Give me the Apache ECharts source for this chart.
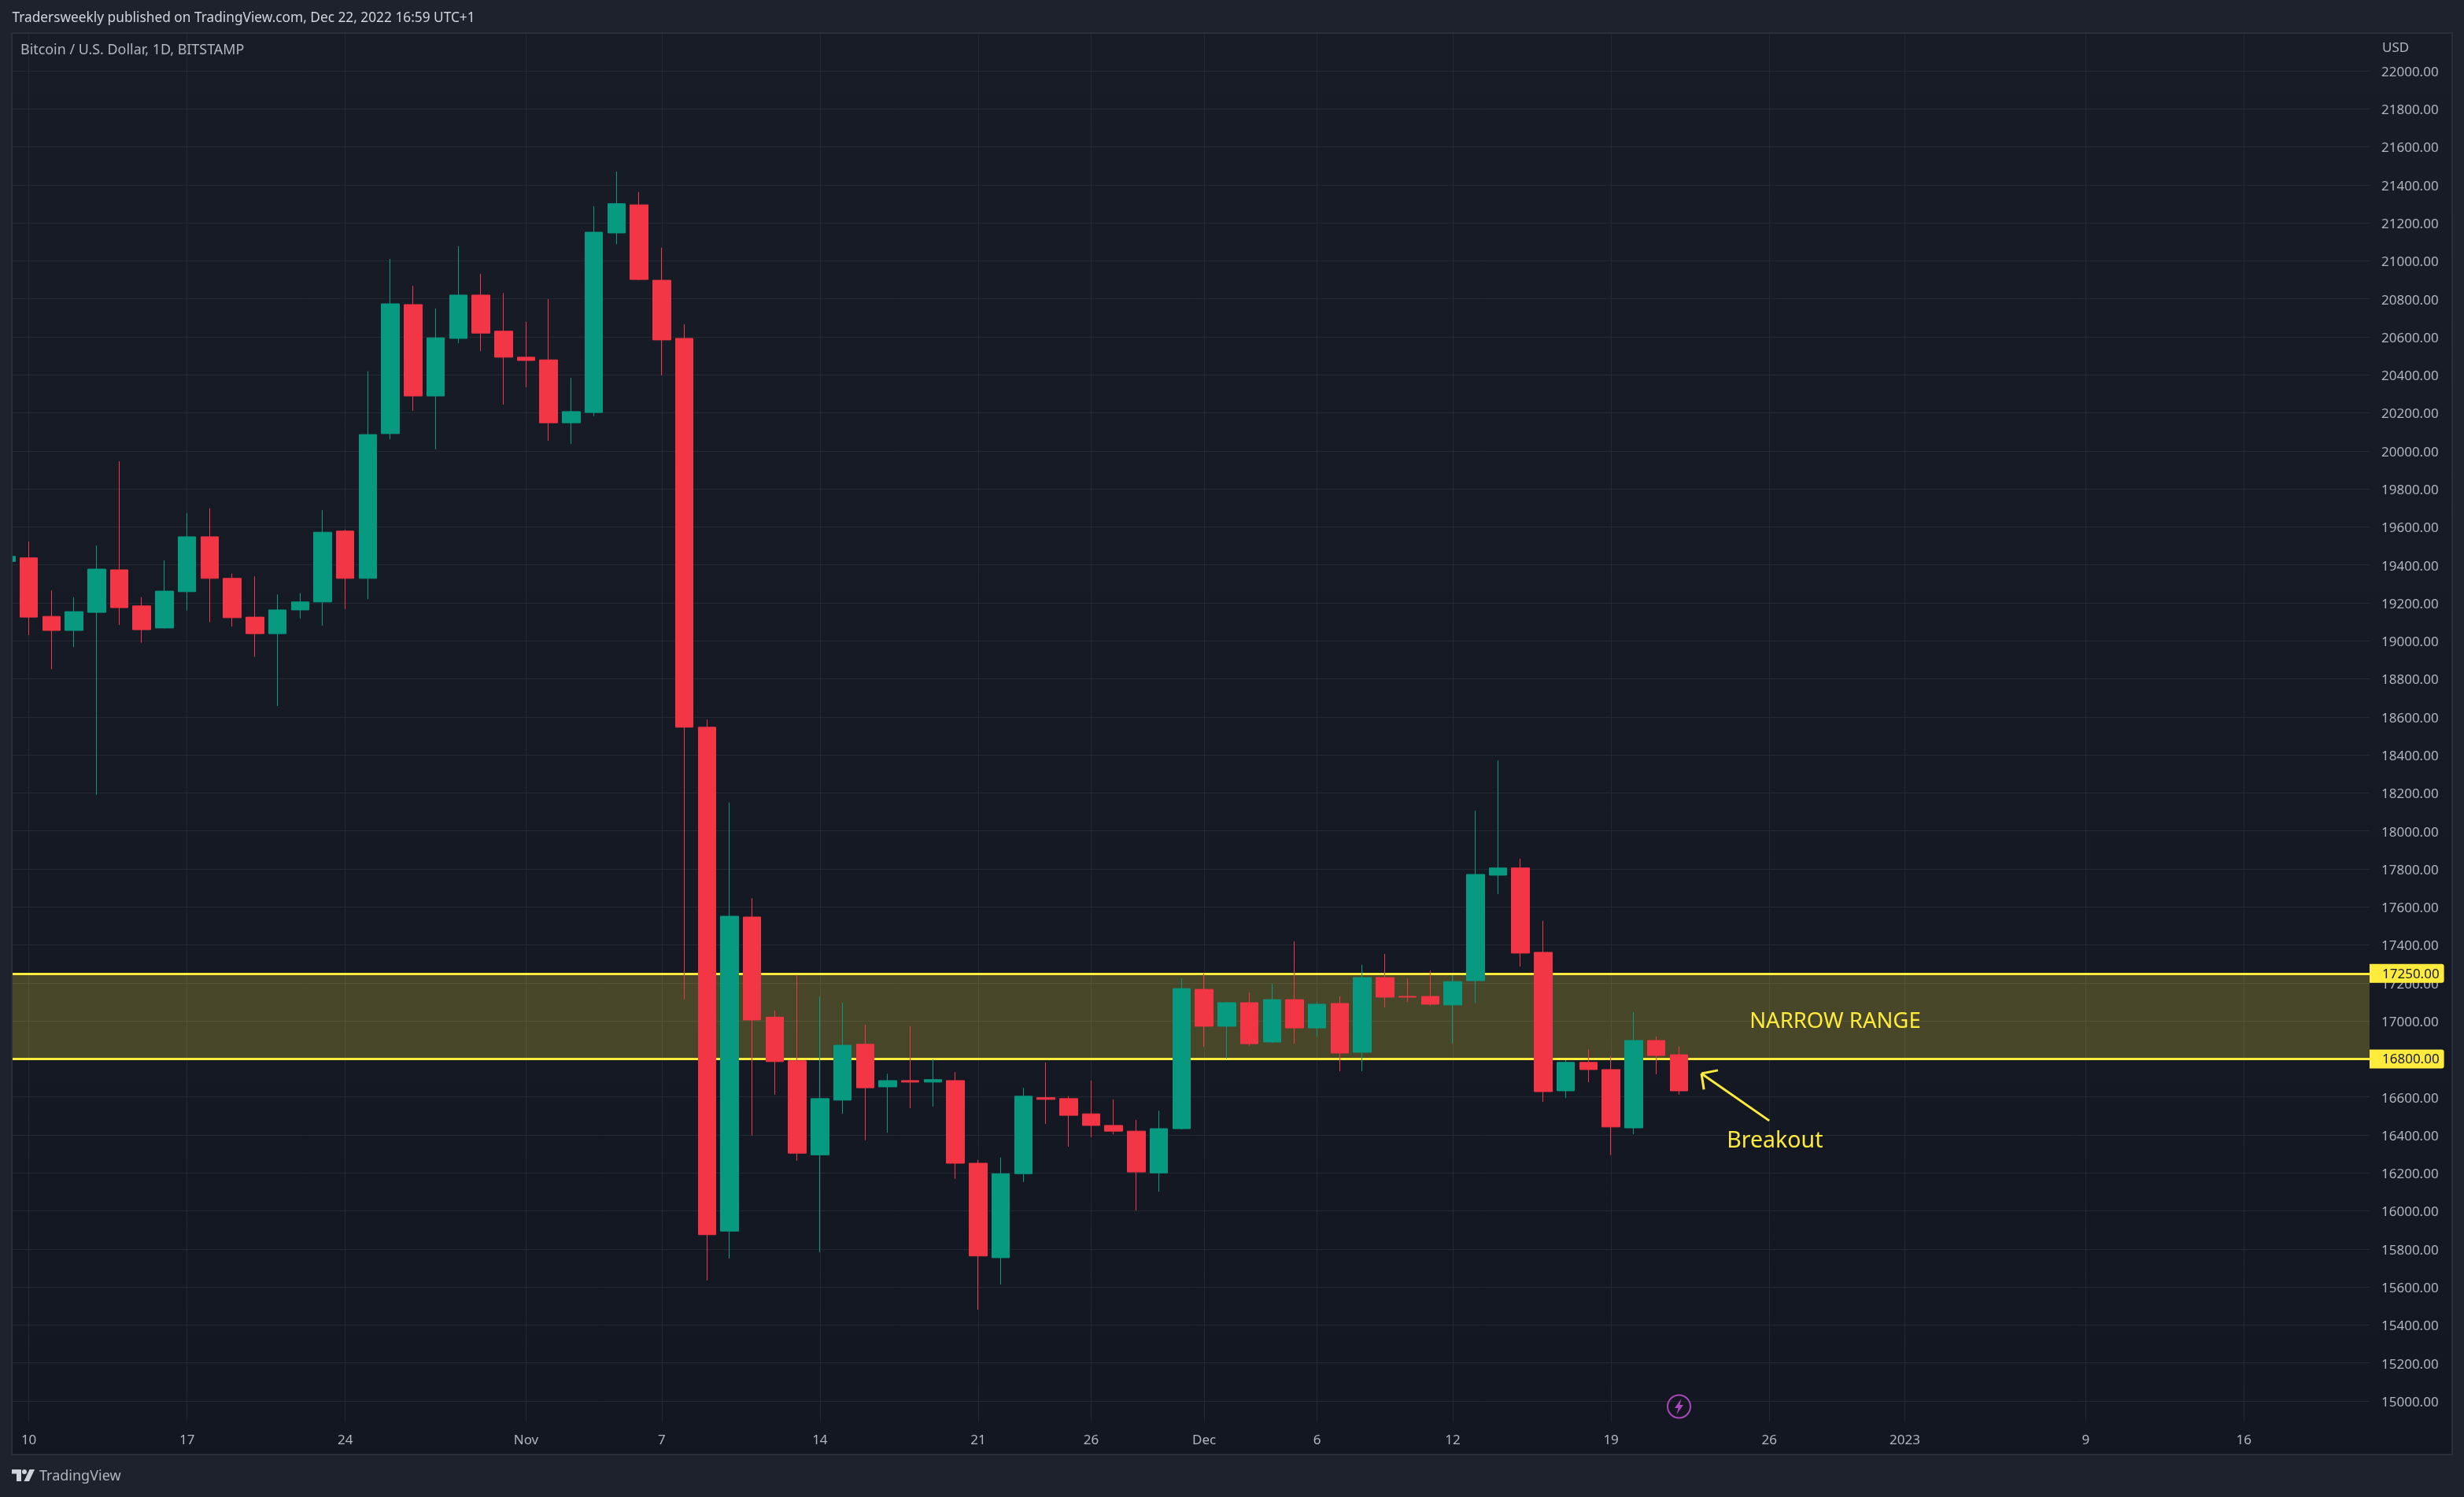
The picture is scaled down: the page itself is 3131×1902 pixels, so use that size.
<!DOCTYPE html>
<html><head><meta charset="utf-8">
<style>html,body{margin:0;padding:0;background:#1e222d;overflow:hidden}#c{width:3131px;height:1902px}</style>
<script src="https://cdn.jsdelivr.net/npm/echarts@6/dist/echarts.min.js"></script>
</head><body><div id="c"></div>
<script>
const dates = ['2022-10-09','2022-10-10','2022-10-11','2022-10-12','2022-10-13','2022-10-14','2022-10-15','2022-10-16','2022-10-17','2022-10-18','2022-10-19','2022-10-20','2022-10-21','2022-10-22','2022-10-23','2022-10-24','2022-10-25','2022-10-26','2022-10-27','2022-10-28','2022-10-29','2022-10-30','2022-10-31','2022-11-01','2022-11-02','2022-11-03','2022-11-04','2022-11-05','2022-11-06','2022-11-07','2022-11-08','2022-11-09','2022-11-10','2022-11-11','2022-11-12','2022-11-13','2022-11-14','2022-11-15','2022-11-16','2022-11-17','2022-11-18','2022-11-19','2022-11-20','2022-11-21','2022-11-22','2022-11-23','2022-11-24','2022-11-25','2022-11-26','2022-11-27','2022-11-28','2022-11-29','2022-11-30','2022-12-01','2022-12-02','2022-12-03','2022-12-04','2022-12-05','2022-12-06','2022-12-07','2022-12-08','2022-12-09','2022-12-10','2022-12-11','2022-12-12','2022-12-13','2022-12-14','2022-12-15','2022-12-16','2022-12-17','2022-12-18','2022-12-19','2022-12-20','2022-12-21','2022-12-22'];
const opens = [19418,19437,19129,19055,19150,19374,19184,19068,19259,19548,19329,19125,19038,19163,19205,19578,19329,20091,20770,20289,20592,20820,20630,20493,20479,20148,20202,21147,21295,20898,20592,18546,15894,17547,17020,16790,16295,16583,16877,16653,16686,16678,16686,16251,15754,16196,16596,16591,16511,16450,16420,16200,16433,17166,16972,17096,16889,17112,16963,17092,16835,17228,17129,17129,17084,17212,17767,17805,17361,16632,16782,16744,16437,16897,16822];
const closes = [19445,19125,19055,19154,19378,19175,19059,19262,19548,19329,19122,19038,19163,19205,19572,19329,20086,20774,20289,20595,20820,20620,20493,20476,20148,20207,21151,21301,20902,20584,18546,15875,17551,17005,16786,16304,16591,16872,16648,16686,16678,16691,16251,15763,16196,16604,16587,16503,16450,16420,16205,16433,17170,16972,17096,16880,17112,16963,17088,16831,17228,17125,17125,17088,17207,17771,17805,17357,16628,16782,16744,16442,16897,16818,16632];
const lows = [19400,19030,18851,18968,18190,19084,18990,19066,19160,19099,19076,18916,18657,19118,19080,19167,19220,20061,20211,20008,20567,20525,20244,20335,20053,20036,20183,21088,20898,20398,17113,15634,15750,16397,16612,16264,15782,16511,16372,16412,16541,16549,16169,15480,15613,16152,16458,16338,16388,16403,16002,16101,16429,16864,16802,16868,16885,16880,16914,16735,16735,17071,17100,17079,16881,17093,17668,17286,16574,16594,16677,16294,16404,16719,16612];
const highs = [19470,19523,19266,19230,19502,19945,19230,19424,19673,19698,19354,19340,19245,19251,19688,19586,20419,21010,20869,20750,21077,20932,20831,20679,20799,20384,21288,21470,21362,21069,20666,18586,18149,17646,17054,17242,17128,17096,16980,16722,16972,16798,16731,16268,16281,16648,16781,16604,16686,16587,16479,16528,17225,17250,17101,17150,17195,17419,17100,17129,17295,17353,17224,17266,17241,18107,18371,17854,17527,16793,16851,16814,17046,16918,16865];
const xTickDates = ['2022-10-10','2022-10-17','2022-10-24','2022-11-01','2022-11-07','2022-11-14','2022-11-21','2022-11-26','2022-12-01','2022-12-06','2022-12-12','2022-12-19','2022-12-26','2023-01-01','2023-01-09','2023-01-16'];
const xTickLabels = ['10','17','24','Nov','7','14','21','26','Dec','6','12','19','26','2023','9','16'];
const yTicks = [15000,15200,15400,15600,15800,16000,16200,16400,16600,16800,17000,17200,17400,17600,17800,18000,18200,18400,18600,18800,19000,19200,19400,19600,19800,20000,20200,20400,20600,20800,21000,21200,21400,21600,21800,22000];
const rangeLevels = [16800,17250];
const arrowShaft = [['2022-12-23T00:00:00',16723],['2022-12-26T00:00:00',16475]];
const arrowLeg1 = [['2022-12-23T00:00:00',16723],['2022-12-23T17:31:00',16740]];
const arrowLeg2 = [['2022-12-23T00:00:00',16723],['2022-12-23T02:38:00',16639]];
const noteRange = ['NARROW RANGE','2022-12-28T22:00:00',16997,27.5];
const noteBreak = ['Breakout','2022-12-26T06:00:00',16367,28.5];
const xMin = '2022-10-09T06:21:36', xMax = '2023-01-21T13:26:00';
const yMin = 14888, yMax = 22199;

const FONT = '"Noto Sans", sans-serif';
const GREEN = '#089981', RED = '#F23645', YEL = '#FFEB3B', TXT = '#B2B5BE', GRID = '#242833', PAGE = '#1E222D';
const ts = s => Date.parse((s.length === 10 ? s + 'T00:00:00' : s) + 'Z');
const seg = (pts) => [{coord:[ts(pts[0][0]),pts[0][1]]},{coord:[ts(pts[1][0]),pts[1][1]]}];
const xTickTs = xTickDates.map(ts);

const chart = echarts.init(document.getElementById('c'));
chart.setOption({
  animation:false, backgroundColor:PAGE,
  grid:{left:15.5, top:42, width:2995.5, height:1765, containLabel:false},
  xAxis:{type:'value', min:ts(xMin), max:ts(xMax), scale:true,
    axisLine:{show:false}, axisTick:{show:false, customValues:xTickTs},
    splitLine:{show:true, lineStyle:{color:GRID,width:1}},
    axisLabel:{customValues:xTickTs, margin:15, color:TXT, fontFamily:FONT, fontSize:17,
      formatter:v=>xTickLabels[xTickTs.indexOf(v)]}},
  yAxis:[{type:'value', position:'right', min:yMin, max:yMax, scale:true,
    axisLine:{show:false}, axisTick:{show:false, customValues:yTicks},
    splitLine:{show:true, lineStyle:{color:GRID,width:1}},
    axisLabel:{customValues:yTicks, margin:15, formatter:v=>'{a|'+v.toFixed(2)+'}',
      rich:{a:{color:TXT, fontFamily:FONT, fontSize:17, lineHeight:17, padding:[4,0,0,0]}}}},
   {type:'value', position:'right', min:yMin, max:yMax, z:6,
    axisLine:{show:false}, axisTick:{show:false, customValues:rangeLevels}, splitLine:{show:false},
    axisLabel:{customValues:rangeLevels, margin:0,
      backgroundColor:YEL, padding:[3,6,4,16], borderRadius:[0,3,3,0], formatter:v=>'{a|'+v.toFixed(2)+'}',
      rich:{a:{color:'#131722', fontFamily:FONT, fontSize:17, lineHeight:17, padding:[3,0,0,0]}}}}],
  series:[{type:'candlestick', barWidth:23, z:2, clip:true,
    itemStyle:{color:GREEN,color0:RED,borderColor:GREEN,borderColor0:RED,borderWidth:1},
    data:dates.map((d,i)=>[ts(d),opens[i],closes[i],lows[i],highs[i]]),
    markArea:{silent:true, z:1, itemStyle:{color:'rgba(255,235,59,0.22)',borderWidth:0},
      data:[[{yAxis:rangeLevels[1]},{yAxis:rangeLevels[0]}]]},
    markLine:{silent:true, z:1, symbol:'none', label:{show:false}, animation:false,
      lineStyle:{color:YEL,width:3,type:'solid'},
      data:[{yAxis:rangeLevels[0]},{yAxis:rangeLevels[1]},seg(arrowShaft),seg(arrowLeg1),seg(arrowLeg2)]},
    markPoint:{silent:true, z:6, animation:false, symbol:'circle', symbolSize:1, itemStyle:{color:'rgba(0,0,0,0)'},
      data:[noteRange,noteBreak].map(n=>({coord:[ts(n[1]),n[2]],value:n[0],
        label:{show:true,position:'inside',formatter:n[0],color:YEL,fontFamily:FONT,fontSize:n[3]}}))}
  }],
  graphic:[
    {type:'rect',z:-10,silent:true,shape:{x:15,y:42,width:3101,height:1806},
      style:{fill:{type:'linear',x:0,y:0,x2:0,y2:1,colorStops:[{offset:0,color:'#181C27'},{offset:1,color:'#131722'}]}}},
    {type:'rect',z:10,silent:true,shape:{x:0,y:30,width:14,height:1830},style:{fill:PAGE}},
    {type:'rect',z:11,silent:true,shape:{x:15,y:42,width:3101,height:1806},style:{fill:'none',stroke:'#2A2E39',lineWidth:2}},
    {type:'text',z:20,x:15.5,y:15,style:{text:'Tradersweekly published on TradingView.com, Dec 22, 2022 16:59 UTC+1',fill:'#D1D4DC',font:'17.3px '+FONT}},
    {type:'text',z:20,x:26,y:55,style:{text:'Bitcoin / U.S. Dollar, 1D, BITSTAMP',fill:TXT,font:'17.9px '+FONT}},
    {type:'text',z:20,x:3027,y:53,style:{text:'USD',fill:TXT,font:'17px '+FONT}},
    {type:'text',z:20,x:50,y:1867,style:{text:'TradingView',fill:TXT,font:'18px '+FONT}},
    {type:'polygon',z:20,shape:{points:[[15,1867],[27,1867],[27,1882],[21,1882],[21,1872.5],[15,1872.5]]},style:{fill:'#D1D4DC'}},
    {type:'circle',z:20,shape:{cx:31,cy:1870,r:3},style:{fill:'#D1D4DC'}},
    {type:'polygon',z:20,shape:{points:[[37.5,1867],[44,1867],[37,1882],[30.5,1882]]},style:{fill:'#D1D4DC'}},
    {type:'circle',z:20,shape:{cx:2133.5,cy:1787,r:14.5},style:{fill:'none',stroke:'#AB47BC',lineWidth:2}},
    {type:'polygon',z:20,shape:{points:[[2136.5,1777],[2128,1789],[2132.5,1789],[2130.5,1797],[2139,1785],[2134.5,1785]]},style:{fill:'#AB47BC'}}
  ]
});
</script></body></html>
